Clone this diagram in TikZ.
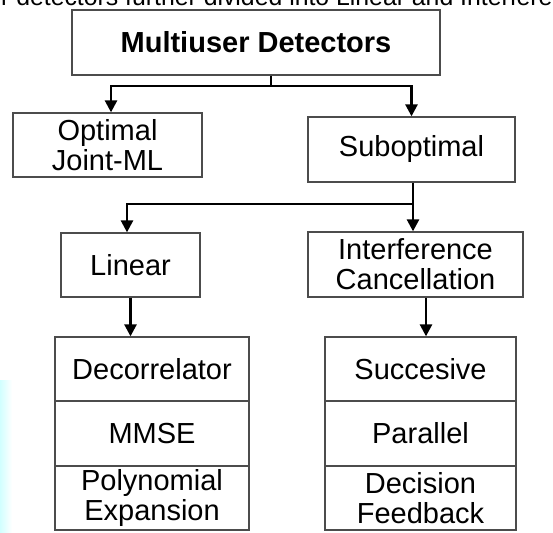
\documentclass[tikz,border=0pt]{standalone}
\usepackage{fontspec}
\setmainfont{Liberation Sans}
\usetikzlibrary{arrows.meta,calc}
\begin{document}
\begin{tikzpicture}[x=1pt,y=-1pt,
  box/.style={draw=black!70,line width=1.3pt,fill=white,inner sep=0pt,align=center,
    font=\fontsize{29}{30}\selectfont},
  conn/.style={line width=2.6pt,draw=black},
  arr/.style={conn,-{Triangle[length=12pt,width=12pt]}}]
\useasboundingbox (0,0) rectangle (553,532);
\clip (0,0) rectangle (553,532);
\shade[left color=cyan!18,right color=white] (0,380) rectangle (12,532);
\node[anchor=base west,inner sep=0pt,font=\fontsize{24.8}{28}\selectfont] (hdr) at (1,5.5) {r detectors further divided into Linear and Interference};
\node[box,minimum width=368pt,minimum height=65pt,font=\fontsize{29}{30}\selectfont\bfseries] (top) at (256,42.5) {Multiuser Detectors};
\node[box,minimum width=189pt,minimum height=64pt] (opt) at (107.5,145) {Optimal\\Joint-ML};
\node[box,minimum width=207pt,minimum height=65pt] (sub) at (411.5,149.5) {Suboptimal};
\node[box,minimum width=139pt,minimum height=64pt] (lin) at (130.5,265) {Linear};
\node[box,minimum width=215pt,minimum height=65pt] (ic) at (415.5,264.5) {Interference\\Cancellation};
\node[box,minimum width=194pt,minimum height=64pt] (l1) at (152,369) {Decorrelator};
\node[box,minimum width=194pt,minimum height=65pt] (l2) at (152,433.5) {MMSE};
\node[box,minimum width=194pt,minimum height=64pt] (l3) at (152,498) {Polynomial\\Expansion};
\node[box,minimum width=191pt,minimum height=64pt] (r1) at (420.5,369) {Succesive};
\node[box,minimum width=191pt,minimum height=65pt] (r2) at (420.5,433.5) {Parallel};
\node[box,minimum width=191pt,minimum height=64pt] (r3) at (420.5,498) {Decision\\Feedback};
\coordinate (j1) at (271,86);
\coordinate (j2) at (413,204);
\draw[conn] (top.south -| j1) -- (j1);
\draw[arr] (j1) -| ($(opt.north)+(3.5,0)$);
\draw[arr] (j1) -| (sub.north);
\draw[conn] (sub.south -| j2) -- (j2);
\draw[arr] (j2) -| ($(lin.north)+(-3.5,0)$);
\draw[arr] (j2) -- (j2 |- ic.north);
\draw[arr] (lin.south) -- (lin.south |- l1.north);
\coordinate (icx) at ($(ic.south)+(10.5,0)$);
\draw[arr] (icx) -- (icx |- r1.north);
\end{tikzpicture}
\end{document}
